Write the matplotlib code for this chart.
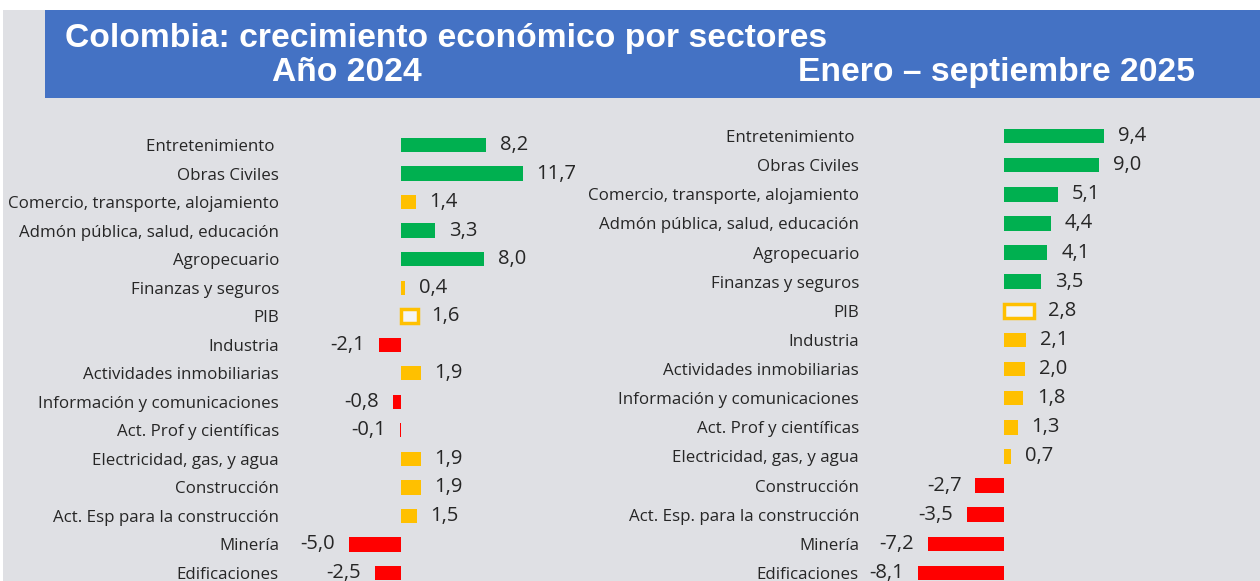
"""Colombia: crecimiento económico por sectores (2024 y enero-septiembre 2025)."""

import matplotlib

matplotlib.use("Agg")

import matplotlib.pyplot as plt
from matplotlib.patches import Rectangle

OUTPUT_FILE = "out.png"

SECTORES_2024 = [
    "Entretenimiento ", "Obras Civiles", "Comercio, transporte, alojamiento",
    "Admón pública, salud, educación", "Agropecuario", "Finanzas y seguros",
    "PIB", "Industria", "Actividades inmobiliarias",
    "Información y comunicaciones", "Act. Prof y científicas",
    "Electricidad, gas, y agua", "Construcción",
    "Act. Esp para la construcción", "Minería", "Edificaciones",
]
VALORES_2024 = [8.2, 11.7, 1.4, 3.3, 8.0, 0.4, 1.6, -2.1, 1.9, -0.8, -0.1,
                1.9, 1.9, 1.5, -5.0, -2.5]

SECTORES_2025 = [
    "Entretenimiento ", "Obras Civiles", "Comercio, transporte, alojamiento",
    "Admón pública, salud, educación", "Agropecuario", "Finanzas y seguros",
    "PIB", "Industria", "Actividades inmobiliarias",
    "Información y comunicaciones", "Act. Prof y científicas",
    "Electricidad, gas, y agua", "Construcción",
    "Act. Esp. para la construcción", "Minería", "Edificaciones",
]
VALORES_2025 = [9.4, 9.0, 5.1, 4.4, 4.1, 3.5, 2.8, 2.1, 2.0, 1.8, 1.3, 0.7,
                -2.7, -3.5, -7.2, -8.1]

VERDE = "#00b050"
AMARILLO = "#ffc000"
ROJO = "#ff0000"
FONDO = "#dfe0e4"
AZUL = "#4472c4"
TEXTO = "#262626"

W, H = 1260, 581


def color_barra(valor):
    """Color según el nivel de crecimiento."""
    if valor < 0:
        return ROJO
    if valor < 3:
        return AMARILLO
    return VERDE


def px_rect(x0, y0, x1, y1):
    """Convierte un rectángulo en píxeles (origen arriba) a fracción de figura."""
    return [x0 / W, 1 - y1 / H, (x1 - x0) / W, (y1 - y0) / H]


def dibujar_panel(fig, sectores, valores, x_izq, x_der, x_cero, escala,
                  y_primera, y_ultima):
    """Dibuja un panel de barras horizontales."""
    paso = (y_ultima - y_primera) / (len(sectores) - 1)
    ax = fig.add_axes(px_rect(x_izq, y_primera - paso / 2,
                              x_der, y_ultima + paso / 2))
    ax.set_xlim((x_izq - x_cero) / escala, (x_der - x_cero) / escala)
    ax.set_ylim(len(sectores) - 0.5, -0.5)
    ax.patch.set_visible(False)
    for lado in ax.spines.values():
        lado.set_visible(False)

    posiciones = list(range(len(sectores)))
    for i, (nombre, valor) in enumerate(zip(sectores, valores)):
        if nombre == "PIB":
            ax.barh(i, valor, height=0.5, color="#f4f4f4",
                    edgecolor=AMARILLO, linewidth=2.5)
        else:
            ax.barh(i, valor, height=0.5, color=color_barra(valor))
        texto = f"{valor:.1f}".replace(".", ",")
        desplazamiento = 10 if valor >= 0 else -10
        ax.annotate(texto, (valor, i), xytext=(desplazamiento, 0),
                    textcoords="offset points", va="center",
                    ha="left" if valor >= 0 else "right",
                    fontsize=14.5, color=TEXTO, family="Open Sans")

    ax.set_yticks(posiciones)
    ax.set_yticklabels(sectores, fontsize=12.2, family="Open Sans",
                       color=TEXTO)
    ax.tick_params(axis="y", length=0, pad=8)
    ax.set_xticks([])
    return ax


def main():
    """Construye la figura completa."""
    fig = plt.figure(figsize=(W / 100, H / 100), dpi=100)
    fig.patch.set_facecolor("white")

    fondo = Rectangle((3 / W, 0), 1, 1 - 10 / H, transform=fig.transFigure,
                      facecolor=FONDO, edgecolor="none", zorder=-2)
    banda = Rectangle((45 / W, 1 - 98 / H), 1, 88 / H,
                      transform=fig.transFigure, facecolor=AZUL,
                      edgecolor="none", zorder=-1)
    fig.patches.extend([fondo, banda])

    titulo = dict(color="white", fontsize=24.2, fontweight="bold",
                  family="Liberation Sans", va="baseline")
    fig.text(65 / W, 1 - 47 / H,
             "Colombia: crecimiento económico por sectores", **titulo)
    fig.text(272 / W, 1 - 81 / H, "Año 2024", **titulo)
    fig.text(798 / W, 1 - 81 / H, "Enero – septiembre 2025", **titulo)

    dibujar_panel(fig, SECTORES_2024, VALORES_2024, 290, 580, 401, 10.4,
                  145, 573)
    dibujar_panel(fig, SECTORES_2025, VALORES_2025, 870, 1260, 1004, 10.6,
                  136, 573)

    fig.savefig(OUTPUT_FILE, dpi=100, facecolor=fig.get_facecolor())
    plt.close(fig)


if __name__ == "__main__":
    main()
